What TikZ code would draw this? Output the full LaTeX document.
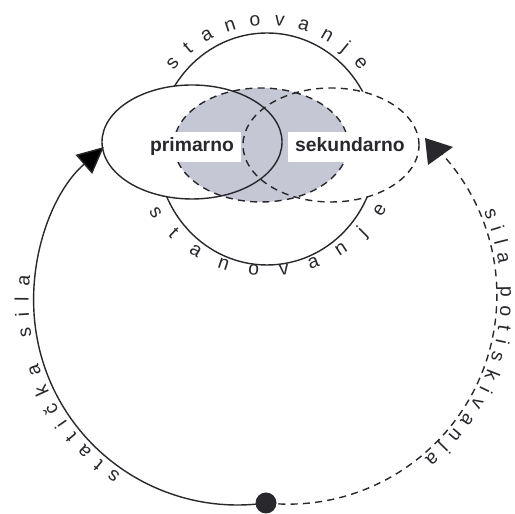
\documentclass[tikz,border=0pt]{standalone}
\usepackage{fontspec}
\setmainfont{Liberation Sans}
\usetikzlibrary{arrows.meta,decorations.text}
\definecolor{ink}{RGB}{40,40,45}
\definecolor{shade}{RGB}{198,199,212}
\newcommand{\arcfont}{\fontsize{11}{13}\selectfont}
\begin{document}
\begin{tikzpicture}[scale=0.02,
        line/.style={draw=ink, line width=0.8pt},
        dashline/.style={line, dash pattern=on 4pt off 3pt},
        tag/.style={fill=white, text=ink, font=\fontsize{11}{13}\selectfont\bfseries,
            inner xsep=4pt, text height=8pt, text depth=2.4pt, minimum height=0.56cm},
        arctext/.style={decoration={text along path, text align=fit to path,
            text color=ink, text={|\arcfont|#1}}, decorate}]
        \useasboundingbox (0,0) rectangle (515,514);

        % stanovanje
        \draw[line] (267,365) ellipse [x radius=110, y radius=116];
        \path[arctext=stanovanje] (267,365) ++(141:120 and 124)
            arc [start angle=141, end angle=39, x radius=120, y radius=124];
        \path[arctext=stanovanje] (267,365) ++(209.5:136 and 127)
            arc [start angle=209.5, end angle=332, x radius=136, y radius=127];

        % primarno / sekundarno
        \fill[white] (192,372) ellipse [x radius=90, y radius=57];
        \fill[white] (331,369) ellipse [x radius=88, y radius=57];
        \filldraw[fill=shade, dashline] (261,369) ellipse [x radius=87, y radius=57];
        \draw[line] (192,372) ellipse [x radius=90, y radius=57];
        \draw[dashline] (331,369) ellipse [x radius=88, y radius=57];
        \node[tag] (prim) at (192,367) {primarno};
        \node[tag] (sek) at (350,367) {sekundarno};

        % sile
        \node[circle, fill=ink, minimum size=0.42cm, inner sep=0pt] (dot) at (266,11) {};
        \draw[line, -{Triangle[length=0.53cm, width=0.5cm]}] (dot.center)
            arc [start angle=278, end angle=131, radius=204] coordinate (endL);
        \draw[dashline] (dot.center)
            arc [start angle=264, end angle=402.5, radius=209] coordinate (endR);
        \fill[ink] (425,376) -- (453,367) -- (428,349) -- cycle;
        \path[arctext=statička sila] (237.6,213) ++(236:209)
            arc [start angle=236, end angle=173, radius=209];
        \path[arctext=sila potiskivanja] (287.8,219) ++(23:213)
            arc [start angle=23, end angle=-50, radius=213];
\end{tikzpicture}
\end{document}
